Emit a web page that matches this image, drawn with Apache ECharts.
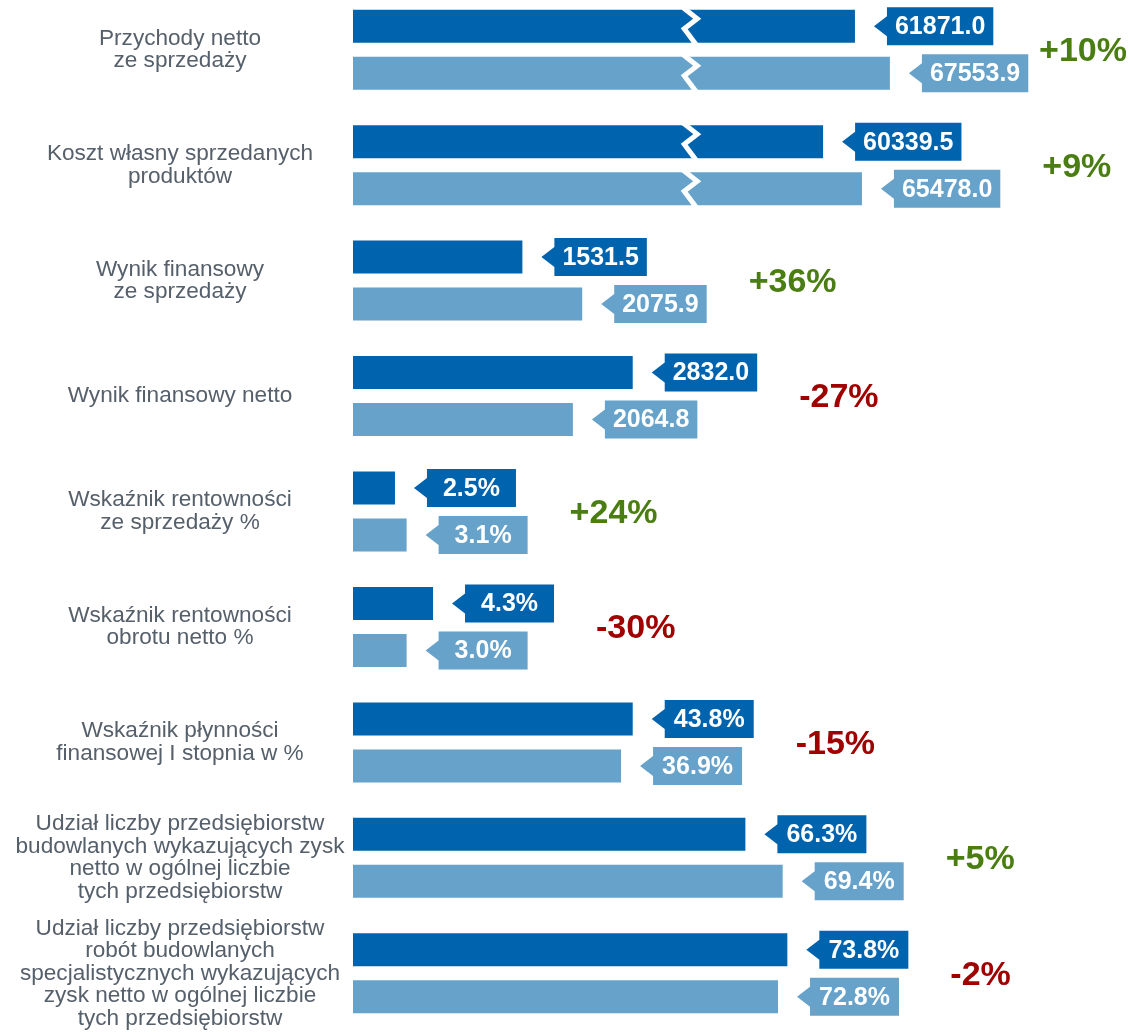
<!DOCTYPE html>
<html>
<head>
<meta charset="utf-8">
<script src="https://cdn.jsdelivr.net/npm/echarts@6/dist/echarts.min.js"></script>
<style>
	html, body { margin: 0; padding: 0; background: #fff; overflow: hidden; }
	body { position: relative; width: 1130px; height: 1032px; }
	/* wykres wysuniety o 8px w gore, pierwszy slupek zaczyna sie przy samej krawedzi */
	#chart { position: absolute; left: 0; top: -8px; width: 1130px; height: 1040px; }
</style>
</head>
<body>
<div id="chart"></div>
<script>
// kategorie (etykiety osi)
var categories = [
	'Przychody netto\nze sprzedaży',
	'Koszt własny sprzedanych\nproduktów',
	'Wynik finansowy\nze sprzedaży',
	'Wynik finansowy netto',
	'Wskaźnik rentowności\nze sprzedaży %',
	'Wskaźnik rentowności\nobrotu netto %',
	'Wskaźnik płynności\nfinansowej I stopnia w %',
	'Udział liczby przedsiębiorstw\nbudowlanych wykazujących zysk\nnetto w ogólnej liczbie\ntych przedsiębiorstw',
	'Udział liczby przedsiębiorstw\nrobót budowlanych\nspecjalistycznych wykazujących\nzysk netto w ogólnej liczbie\ntych przedsiębiorstw'
];
// wartosci pokazane w dymkach
var prevLabels = ['61871.0', '60339.5', '1531.5', '2832.0', '2.5%', '4.3%', '43.8%', '66.3%', '73.8%'];
var currLabels = ['67553.9', '65478.0', '2075.9', '2064.8', '3.1%', '3.0%', '36.9%', '69.4%', '72.8%'];
// dlugosci slupkow (skala 0-100)
var prevBars = [64.6, 60.5, 21.8, 36.0, 5.4, 10.3, 36.0, 50.5, 55.9];
var currBars = [69.1, 65.5, 29.5, 28.3, 6.9, 6.9, 34.5, 55.3, 54.7];
// zmiana r/r
var changes = ['+10%', '+9%', '+36%', '-27%', '+24%', '-30%', '-15%', '+5%', '-2%'];
// przerwane slupki
var brokenCats = [0, 1];
var breakAt = 43.4;

var FONT = "'Liberation Sans', Arial, sans-serif";
var DARK = '#0063ae';
var LIGHT = '#66a2ca';

var measureCtx = document.createElement('canvas').getContext('2d');
function textWidth(txt, font) {
	measureCtx.font = font;
	return measureCtx.measureText(txt).width;
}

// geometria slupka + dymka
function barGeom(api, cat, len, label, side) {
	var start = api.coord([0, cat]);
	var end = api.coord([len, cat]);
	var band = api.size([0, 1])[1];
	var barH = band * 0.286;
	var cy = start[1] + side * band * 0.2036;
	var tipX = end[0] + 19;
	var boxX = tipX + 13;
	var boxW = Math.max(89, textWidth(label, 'bold 25px ' + FONT) + 16);
	return {x0: start[0], x1: end[0], cy: cy, barH: barH, tipX: tipX, boxX: boxX, boxW: boxW};
}

function makeRender(labelsArr, color, side) {
	return function(params, api) {
		var len = api.value(0);
		var cat = api.value(1);
		var g = barGeom(api, cat, len, labelsArr[cat], side);
		var children = [];
		children.push({
			type: 'rect',
			shape: {x: g.x0, y: g.cy - g.barH / 2, width: g.x1 - g.x0, height: g.barH},
			style: {fill: color}
		});
		if (brokenCats.indexOf(cat) >= 0) {
			var bx = api.coord([breakAt, cat])[0];
			var t = g.cy - g.barH / 2, b = g.cy + g.barH / 2;
			children.push({
				type: 'polyline',
				shape: {points: [[bx - 7, t - 2], [bx + 7, t + 9], [bx - 6, t + 19], [bx + 6, b + 2]]},
				style: {stroke: '#fff', lineWidth: 5, fill: null, lineJoin: 'miter'}
			});
		}
		children.push({
			type: 'polygon',
			shape: {points: [
				[g.tipX, g.cy], [g.boxX, g.cy - 10], [g.boxX, g.cy - 19],
				[g.boxX + g.boxW, g.cy - 19], [g.boxX + g.boxW, g.cy + 19],
				[g.boxX, g.cy + 19], [g.boxX, g.cy + 10]
			]},
			style: {fill: color}
		});
		children.push({
			type: 'text',
			style: {
				x: g.boxX + g.boxW / 2, y: g.cy + 1,
				text: labelsArr[cat],
				fill: '#fff', font: 'bold 25px ' + FONT,
				align: 'center', verticalAlign: 'middle'
			}
		});
		return {type: 'group', children: children};
	};
}

function renderChange(params, api) {
	var cat = api.value(0);
	var a = barGeom(api, cat, prevBars[cat], prevLabels[cat], -1);
	var b = barGeom(api, cat, currBars[cat], currLabels[cat], 1);
	var right = Math.max(a.boxX + a.boxW, b.boxX + b.boxW);
	var txt = changes[cat];
	var font = 'bold 34px ' + FONT;
	var w = textWidth(txt, font);
	var x = Math.min(right + 42, 1127 - w);
	var cy = (a.cy + b.cy) / 2 + 2;
	return {
		type: 'text',
		style: {
			x: x, y: cy, text: txt, font: font,
			fill: txt.charAt(0) == '-' ? '#a00000' : '#4a7d12',
			align: 'left', verticalAlign: 'middle'
		}
	};
}

var prevData = [], currData = [], changeData = [];
for (var i = 0; i < categories.length; i++) {
	prevData.push([prevBars[i], i]);
	currData.push([currBars[i], i]);
	changeData.push([i]);
}

var myChart = echarts.init(document.getElementById('chart'));
var option = {
	animation: false,
	grid: {left: 353, right: 0, top: 0, bottom: 1, containLabel: false},
	xAxis: {type: 'value', min: 0, max: 100, show: false},
	yAxis: {
		type: 'category',
		data: categories,
		inverse: true,
		axisLine: {show: false},
		axisTick: {show: false},
		splitLine: {show: false},
		axisLabel: {
			margin: 173,
			align: 'center',
			fontFamily: FONT,
			fontSize: 22.6,
			lineHeight: 22.5,
			color: '#56606b'
		}
	},
	series: [
		{type: 'custom', name: 'prev', renderItem: makeRender(prevLabels, DARK, -1), encode: {x: 0, y: 1}, data: prevData},
		{type: 'custom', name: 'curr', renderItem: makeRender(currLabels, LIGHT, 1), encode: {x: 0, y: 1}, data: currData},
		{type: 'custom', name: 'change', renderItem: renderChange, encode: {y: 0}, data: changeData}
	]
};
myChart.setOption(option);
</script>
</body>
</html>
